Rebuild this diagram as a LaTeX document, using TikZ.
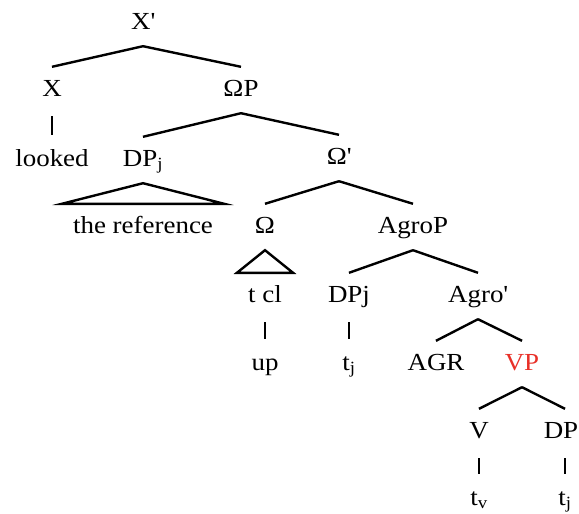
\documentclass[tikz,border=0pt]{standalone}
\usepackage{fontspec}
\setmainfont{Liberation Serif}[FakeStretch=1.1]
\usepackage{xcolor}
\definecolor{vpred}{RGB}{232,48,40}

\begin{document}
\begin{tikzpicture}[x=1pt,y=-1pt,line width=2.4pt,font=\fontsize{24.5}{29}\selectfont,
  lbl/.style={anchor=base,text height=16pt,text depth=4pt,inner xsep=2pt,inner ysep=12pt},
  roof/.style={lbl,inner xsep=10pt},
  bar/.style={shorten <=3pt,shorten >=2pt}]
  \useasboundingbox (0,0) rectangle (579,514);
  % upper part
  \node[lbl] (xbar) at (143,29) {X\textquotesingle};
  \node[lbl] (x) at (52,96) {X};
  \node[lbl] (omp) at (241,96) {ΩP};
  \node[lbl] (looked) at (52,166) {looked};
  \node[lbl] (dpj) at (143,166) {DP\textsubscript{j}};
  \node[lbl] (ombar) at (339,164) {Ω\textquotesingle};
  \node[roof] (ref) at (143,233) {the reference};
  \node[lbl] (om) at (265,233) {Ω};
  \node[lbl] (agrop) at (413,233) {AgroP};
  % lower part
  \node[roof] (tcl) at (265,302) {t cl};
  \node[lbl] (dpjb) at (349,302) {DPj};
  \node[lbl] (agrobar) at (478,302) {Agro\textquotesingle};
  \node[lbl] (up) at (265,370) {up};
  \node[lbl] (tj) at (349,370) {t\textsubscript{j}};
  \node[lbl] (agr) at (436,370) {AGR};
  \node[lbl,text=vpred] (vp) at (522,370) {VP};
  \node[lbl] (v) at (479,438) {V};
  \node[lbl] (dp) at (561,438) {DP};
  \node[lbl] (tv) at (479,505) {t\textsubscript{v}};
  \node[lbl] (tjb) at (565,505) {t\textsubscript{j}};
  % branches
  \foreach \a/\b in {xbar/x,xbar/omp,omp/dpj,omp/ombar,ombar/om,ombar/agrop,
    agrop/dpjb,agrop/agrobar,agrobar/agr,agrobar/vp,vp/v}
    \draw (\a.south) -- (\b.north);
  \draw (vp.south) -- (dp.north -| tjb.north);
  \foreach \a/\b in {x/looked,tcl/up,dpjb/tj,v/tv}
    \draw[bar] (\a.south) -- (\b.north);
  \draw[bar] (dp.south -| tjb.north) -- (tjb.north);
  % roofs
  \draw (dpj.south) -- (ref.north west) -- (ref.north east) -- cycle;
  \draw (om.south) -- (tcl.north west) -- (tcl.north east) -- cycle;
\end{tikzpicture}
\end{document}
